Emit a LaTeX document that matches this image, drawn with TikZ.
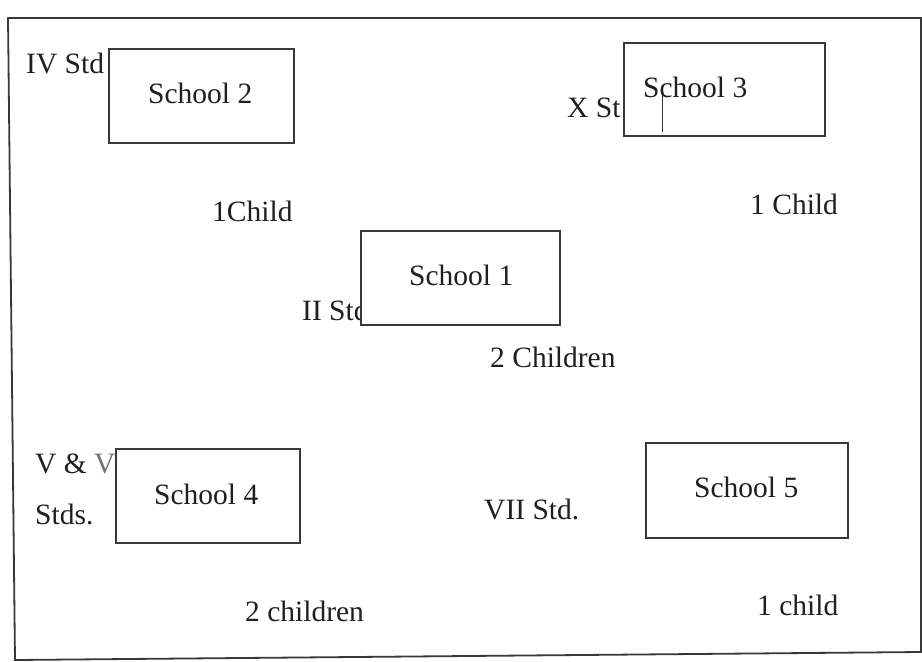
\documentclass[tikz,border=0pt]{standalone}
\usepackage{fontspec}
\setmainfont{Liberation Serif}
\begin{document}
\begin{tikzpicture}[x=1pt,y=-1pt,
  lbl/.style={anchor=base west,inner sep=0pt,font=\fontsize{29.5}{35}\selectfont,text=black!88},
  sbox/.style={draw=black!78,line width=1.8pt,fill=white,inner sep=0pt,anchor=north west}]
\useasboundingbox (0,0) rectangle (922,662);
% outer frame
\draw[black!78,line width=1.8pt] (8,18) -- (921,18) -- (921,652) -- (15,660) -- cycle;
% side labels (drawn first; boxes cover their ends)
\node[lbl] (l2) at (26,73) {IV Std};
\node[lbl] (l3) at (567,117) {X St};
\node[lbl] (l1) at (302,320) {II Std};
\node[lbl] (l4a) at (35,473) {V \& {\color{black!55}VI}};
\node[lbl] (l4b) at (35,524) {Stds.};
\node[lbl] (l5) at (484,519) {VII Std.};
% boxes
\node[sbox,minimum width=185pt,minimum height=94pt] (s2) at (108,48) {};
\node[sbox,minimum width=201pt,minimum height=93pt] (s3) at (623,42) {};
\node[sbox,minimum width=199pt,minimum height=94pt] (s1) at (360,230) {};
\node[sbox,minimum width=184pt,minimum height=94pt] (s4) at (115,448) {};
\node[sbox,minimum width=202pt,minimum height=95pt] (s5) at (645,442) {};
% box texts
\node[lbl] (t2) at (148,103) {School 2};
\node[lbl] (t3) at (643,97) {School 3};
\node[lbl] (t1) at (409,285) {School 1};
\node[lbl] (t4) at (154,504) {School 4};
\node[lbl] (t5) at (694,497) {School 5};
\coordinate (m1) at (662,95);
\coordinate (m2) at (662,132);
\draw[black!80,line width=0.9pt] (m1) -- (m2);
% counts
\node[lbl] (c2) at (212,221) {1Child};
\node[lbl] (c3) at (750,214) {1 Child};
\node[lbl] (c1) at (490,367) {2 Children};
\node[lbl] (c4) at (245,621) {2 children};
\node[lbl] (c5) at (757,615) {1 child};
\end{tikzpicture}
\end{document}
